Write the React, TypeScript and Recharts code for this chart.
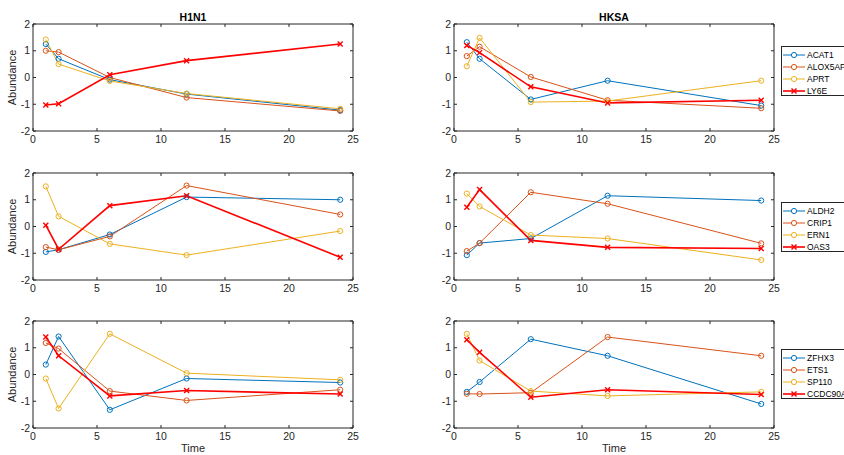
import React from 'react';
import { LineChart, Line, XAxis, YAxis, ReferenceArea } from 'recharts';

const TIME = [1, 2, 6, 12, 24];
const X_TICKS = [0, 5, 10, 15, 20, 25];
const Y_TICKS = [-2, -1, 0, 1, 2];

const GENES_A = ['ACAT1', 'ALOX5AP', 'APRT', 'LY6E'];
const GENES_B = ['ALDH2', 'CRIP1', 'ERN1', 'OAS3'];
const GENES_C = ['ZFHX3', 'ETS1', 'SP110', 'CCDC90A'];

// one inner array per gene, values at TIME
const H1N1_A = [
  [1.25, 0.7, -0.08, -0.62, -1.22],
  [1.0, 0.95, 0.0, -0.75, -1.25],
  [1.42, 0.5, -0.13, -0.6, -1.17],
  [-1.03, -0.98, 0.1, 0.63, 1.25],
];
const HKSA_A = [
  [1.32, 0.7, -0.82, -0.12, -1.05],
  [0.8, 1.15, 0.02, -0.85, -1.15],
  [0.42, 1.48, -0.92, -0.88, -0.12],
  [1.2, 0.93, -0.35, -0.95, -0.85],
];
const H1N1_B = [
  [-0.95, -0.87, -0.3, 1.1, 1.0],
  [-0.77, -0.87, -0.37, 1.53, 0.45],
  [1.5, 0.38, -0.65, -1.07, -0.17],
  [0.05, -0.85, 0.78, 1.15, -1.15],
];
const HKSA_B = [
  [-1.07, -0.62, -0.45, 1.15, 0.97],
  [-0.92, -0.62, 1.28, 0.85, -0.63],
  [1.23, 0.75, -0.32, -0.45, -1.25],
  [0.72, 1.38, -0.52, -0.78, -0.82],
];
const H1N1_C = [
  [0.37, 1.42, -1.32, -0.15, -0.3],
  [1.18, 0.97, -0.62, -0.97, -0.57],
  [-0.15, -1.27, 1.52, 0.05, -0.2],
  [1.4, 0.7, -0.8, -0.6, -0.73],
];
const HKSA_C = [
  [-0.65, -0.28, 1.32, 0.7, -1.1],
  [-0.72, -0.73, -0.68, 1.4, 0.7],
  [1.52, 0.52, -0.62, -0.8, -0.65],
  [1.3, 0.83, -0.85, -0.57, -0.75],
];

const COLORS = ['#0072BD', '#D95319', '#EDB120', '#FF0000'];
const AX = '#262626';
const FONT = '"Liberation Sans", Arial, Helvetica, sans-serif';
const PLOT_TOP = 24;
const PLOT_H = 107;
const PLOT_W = 320;

const toRows = (vals: number[][]) =>
  TIME.map((t, i) => {
    const r: any = { t };
    vals.forEach((s, k) => (r['s' + k] = s[i]));
    return r;
  });

const circleDot = (color: string) => (p: any) => (
  <circle key={p.index} cx={p.cx} cy={p.cy} r={2.6} fill="none" stroke={color} strokeWidth={1} />
);

const crossDot = (color: string) => (p: any) => (
  <g key={p.index}>
    <line x1={p.cx - 2.5} y1={p.cy - 2.5} x2={p.cx + 2.5} y2={p.cy + 2.5} stroke={color} strokeWidth={1.4} />
    <line x1={p.cx - 2.5} y1={p.cy + 2.5} x2={p.cx + 2.5} y2={p.cy - 2.5} stroke={color} strokeWidth={1.4} />
  </g>
);

function Panel({ left, top, vals, yLabel, xLabel, axisW, title }: any) {
  const plotLeft = axisW;
  const plotRight = axisW + PLOT_W;
  const plotBottom = PLOT_TOP + PLOT_H;
  const xAxisH = xLabel ? 40 : 19;
  const height = PLOT_TOP + PLOT_H + xAxisH;
  const data = toRows(vals);

  const xTick = (p: any) => (
    <g key={p.index}>
      <line x1={p.x} x2={p.x} y1={plotBottom} y2={plotBottom - 3} stroke={AX} />
      <line x1={p.x} x2={p.x} y1={PLOT_TOP} y2={PLOT_TOP + 3} stroke={AX} />
      <text x={p.x} y={p.y} dy="0.71em" textAnchor="middle" fill={AX} fontSize={10.5} fontFamily={FONT}>
        {p.payload.value}
      </text>
    </g>
  );
  const yTick = (p: any) => (
    <g key={p.index}>
      <line x1={plotLeft} x2={plotLeft + 3} y1={p.y} y2={p.y} stroke={AX} />
      <line x1={plotRight} x2={plotRight - 3} y1={p.y} y2={p.y} stroke={AX} />
      <text x={p.x} y={p.y} dy="0.355em" textAnchor="end" fill={AX} fontSize={10.5} fontFamily={FONT}>
        {p.payload.value}
      </text>
    </g>
  );

  return (
    <div style={{ position: 'absolute', left, top }}>
      {title && (
        <div
          style={{
            position: 'absolute', left: plotLeft, top: 12, width: PLOT_W, textAlign: 'center',
            fontFamily: FONT, fontWeight: 'bold', fontSize: 10.5, lineHeight: '10px', color: '#000',
          }}
        >
          {title}
        </div>
      )}
      <LineChart width={422} height={height} data={data}
        margin={{ top: PLOT_TOP, right: 422 - plotRight, bottom: 0, left: 0 }}>
        <XAxis dataKey="t" type="number" domain={[0, 25]} ticks={X_TICKS} height={xAxisH}
          axisLine={false} tickLine={false} tickSize={0} tickMargin={5} tick={xTick}
          label={xLabel ? { value: 'Time', position: 'insideTop', offset: 16, fill: AX, fontSize: 11, fontFamily: FONT } : undefined} />
        <YAxis type="number" domain={[-2, 2]} ticks={Y_TICKS} width={axisW}
          axisLine={false} tickLine={false} tickSize={0} tickMargin={3} tick={yTick}
          label={yLabel ? { value: 'Abundance', angle: -90, position: 'center', dx: -4, fill: AX, fontSize: 11, fontFamily: FONT } : undefined} />
        <ReferenceArea x1={0} x2={25} y1={-2} y2={2} fill="none" stroke={AX} strokeWidth={1} />
        {vals.map((_: any, k: number) => (
          <Line key={k} dataKey={'s' + k} type="linear" stroke={COLORS[k]}
            strokeWidth={k === 3 ? 1.6 : 1}
            dot={k === 3 ? crossDot(COLORS[k]) : circleDot(COLORS[k])}
            activeDot={false} isAnimationActive={false} />
        ))}
      </LineChart>
    </div>
  );
}

function GeneLegend({ top, genes }: { top: number; genes: string[] }) {
  return (
    <div
      style={{
        position: 'absolute', left: 781, top, width: 80, height: 50, boxSizing: 'border-box',
        border: '1px solid ' + AX, background: '#fff', paddingTop: 2,
      }}
    >
      {genes.map((g, k) => (
        <div key={g} style={{ display: 'flex', alignItems: 'center', height: 12 }}>
          <svg width={24} height={12} style={{ flex: 'none' }}>
            <line x1={1} x2={23} y1={6} y2={6} stroke={COLORS[k]} strokeWidth={k === 3 ? 1.6 : 1} />
            {k === 3 ? (
              <g>
                <line x1={9.5} y1={3.5} x2={14.5} y2={8.5} stroke={COLORS[k]} strokeWidth={1.4} />
                <line x1={9.5} y1={8.5} x2={14.5} y2={3.5} stroke={COLORS[k]} strokeWidth={1.4} />
              </g>
            ) : (
              <circle cx={12} cy={6} r={2.6} fill="#fff" stroke={COLORS[k]} />
            )}
          </svg>
          <span style={{ fontFamily: FONT, fontSize: 8.5, color: '#000', whiteSpace: 'nowrap', marginLeft: 1 }}>{g}</span>
        </div>
      ))}
    </div>
  );
}

export default function App() {
  return (
    <div
      style={{
        position: 'absolute', left: 0, top: 0, width: 844, height: 455,
        overflow: 'hidden', background: '#fff',
      }}
    >
      <Panel left={0} top={0} vals={H1N1_A} axisW={33} yLabel title="H1N1" />
      <Panel left={422} top={0} vals={HKSA_A} axisW={32} title="HKSA" />
      <Panel left={0} top={149} vals={H1N1_B} axisW={33} yLabel />
      <Panel left={422} top={149} vals={HKSA_B} axisW={32} />
      <Panel left={0} top={297} vals={H1N1_C} axisW={33} yLabel xLabel />
      <Panel left={422} top={297} vals={HKSA_C} axisW={32} xLabel />
      <GeneLegend top={46} genes={GENES_A} />
      <GeneLegend top={202} genes={GENES_B} />
      <GeneLegend top={349} genes={GENES_C} />
    </div>
  );
}
